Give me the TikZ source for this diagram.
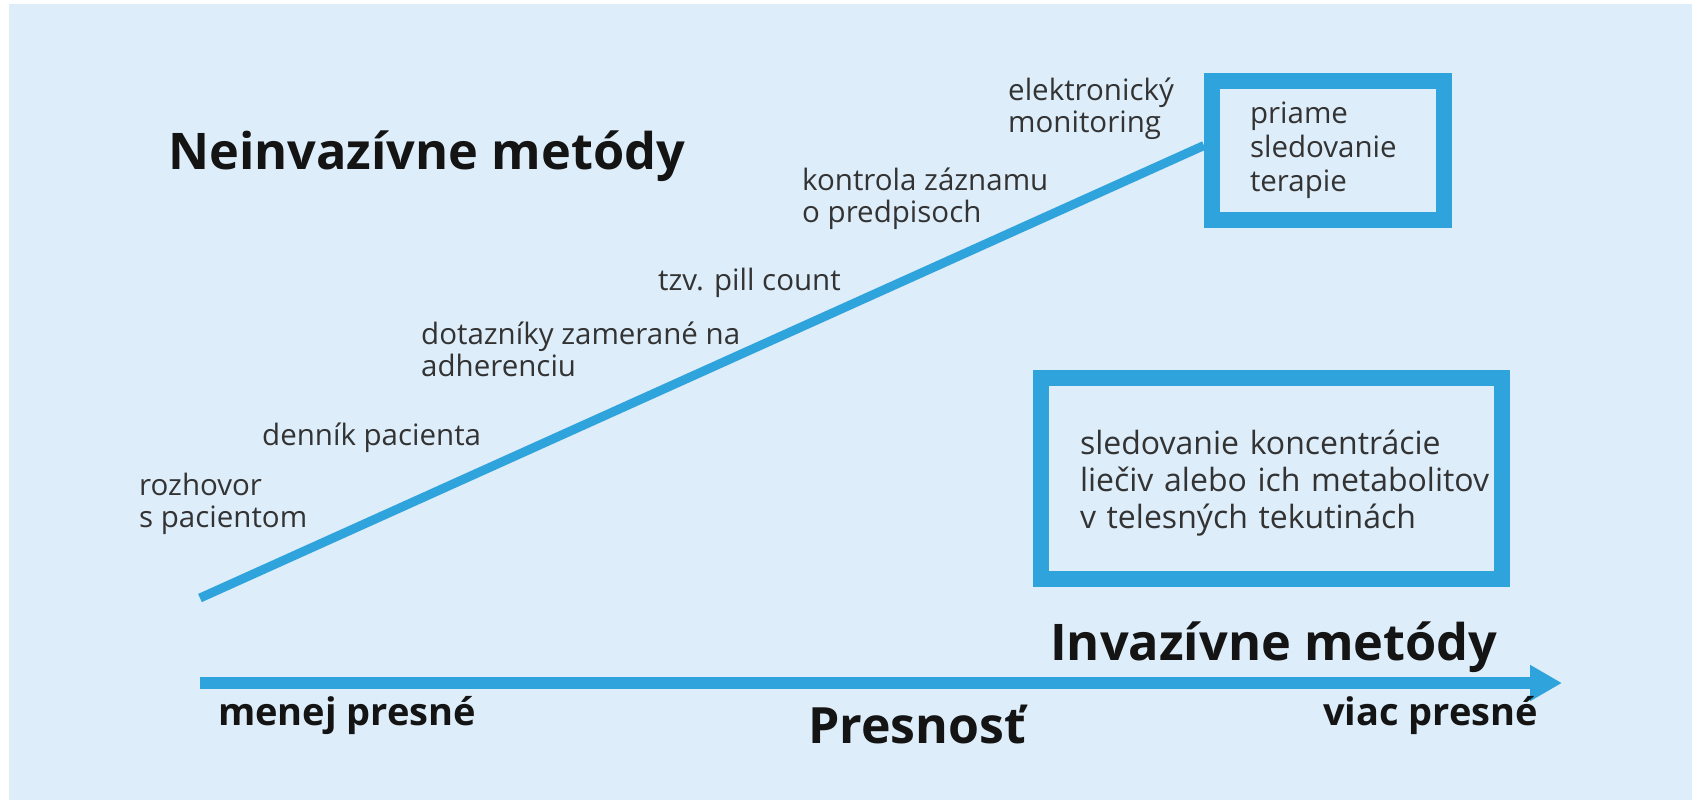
\documentclass[tikz,border=0pt]{standalone}
\usepackage{fontspec}
\setmainfont{Open Sans}
\usetikzlibrary{arrows.meta}

\definecolor{bgblue}{HTML}{DDEDF9}
\definecolor{lineblue}{HTML}{2EA3DC}
\definecolor{txtgray}{HTML}{333333}

\tikzset{
  methodtext/.style={anchor=base west, inner sep=0pt, align=left, text=txtgray, font=\fontsize{29.5}{32}\selectfont},
  titletext/.style={anchor=base west, inner sep=0pt, text=black!92, font=\bfseries\fontsize{50.5}{56}\selectfont},
  axistext/.style={anchor=base west, inner sep=0pt, text=black!92, font=\bfseries\fontsize{38}{44}\selectfont},
  methodbox/.style={draw=lineblue, line width=16pt, align=left, text=txtgray, font=\fontsize{29.5}{34}\selectfont},
}

\begin{document}
\begin{tikzpicture}[x=1pt,y=-1pt]
	\useasboundingbox (0,0) rectangle (1692,800);
	\fill[white] (0,0) rectangle (1692,800);
	\fill[bgblue] (9,4) rectangle (1692,800);
	% methods along the line (base = last line)
	\node[titletext] (neinv) at (168,169) {Neinvazívne metódy};
	\node[methodtext] (rozhovor) at (139,527) {rozhovor\\s pacientom};
	\node[methodtext] (dennik) at (262,445) {denník pacienta};
	\node[methodtext] (dotaznik) at (421,376) {dotazníky zamerané na\\adherenciu};
	\node[methodtext] (pill) at (658,290) {tzv. pill count};
	\node[methodtext] (kontrola) at (802,222) {kontrola záznamu\\o predpisoch};
	\node[methodtext] (elektro) at (1008,132) {elektronický\\monitoring};
	\coordinate (lstart) at (200,598);
	\node[methodbox, inner xsep=38pt, text width=156pt, minimum height=139pt] (priame) at (1328,150.5) {priame\\sledovanie\\terapie};
	\draw[lineblue, line width=9pt] (lstart) -- ([yshift=5pt]priame.west);
	% invasive
	\node[methodbox, inner xsep=39pt, text width=383pt, minimum height=201pt, font=\fontsize{32}{37}\selectfont] (koncentr) at (1271.5,478) {\mbox{\rule{0pt}{34pt}sledovanie koncentrácie}\\\mbox{liečiv alebo ich metabolitov}\\\mbox{v telesných tekutinách}};
	\node[titletext] (inv) at (1050,660) {Invazívne metódy};
	% axis
	\coordinate (astart) at (200,683);
	\coordinate (aend) at (1562,683);
	\draw[lineblue, line width=12pt][arrows=-{Triangle[length=32pt,width=34pt]}] (astart) -- (aend);
	\node[axistext] (menej) at (218,725) {menej presné};
	\node[axistext] (viac) at (1323,725) {viac presné};
	\node[titletext, font=\bfseries\fontsize{50}{56}\selectfont] (presnost) at (808,743) {Presnosť};
\end{tikzpicture}
\end{document}
